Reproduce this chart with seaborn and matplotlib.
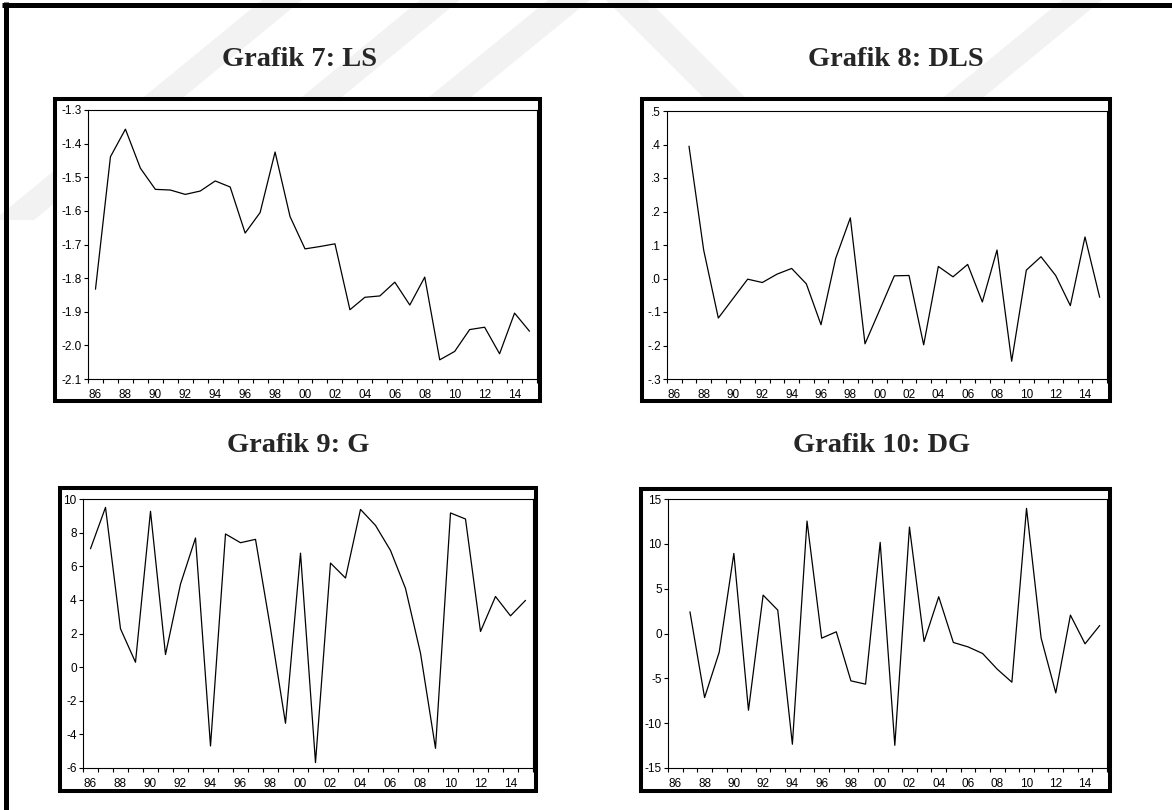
import matplotlib
matplotlib.use("Agg")
import matplotlib.pyplot as plt
from matplotlib.patches import Rectangle, Polygon
from matplotlib.lines import Line2D
import numpy as np
import pandas as pd
import seaborn as sns

# ---- series (annual, 1986-2015) ----
years_ls = list(range(1986, 2016))
ls = [-1.833, -1.439, -1.357, -1.473, -1.536, -1.538, -1.551, -1.541, -1.511, -1.529,
      -1.666, -1.605, -1.425, -1.617, -1.713, -1.706, -1.698, -1.894, -1.857, -1.853,
      -1.812, -1.880, -1.797, -2.043, -2.018, -1.953, -1.946, -2.025, -1.904, -1.958]

years_dls = list(range(1987, 2016))
dls = [0.395, 0.085, -0.118, -0.060, -0.002, -0.012, 0.013, 0.030, -0.016, -0.138,
       0.060, 0.181, -0.195, -0.094, 0.008, 0.009, -0.198, 0.036, 0.005, 0.042,
       -0.070, 0.085, -0.247, 0.025, 0.065, 0.009, -0.081, 0.124, -0.056]

years_g = list(range(1986, 2016))
g = [7.04, 9.50, 2.28, 0.29, 9.27, 0.75, 4.94, 7.68, -4.69, 7.92,
     7.40, 7.60, 2.30, -3.34, 6.78, -5.68, 6.19, 5.30, 9.38, 8.43,
     6.94, 4.68, 0.83, -4.83, 9.17, 8.81, 2.12, 4.20, 3.05, 3.97]

years_dg = list(range(1987, 2016))
dg = [2.42, -7.14, -2.08, 8.93, -8.56, 4.28, 2.61, -12.35, 12.54, -0.52,
      0.19, -5.28, -5.65, 10.16, -12.47, 11.87, -0.89, 4.10, -1.00, -1.49,
      -2.23, -3.98, -5.43, 13.96, -0.52, -6.62, 2.05, -1.15, 0.89]

# ---- titles and axis labels ----
titles = ["Grafik 7: LS", "Grafik 8: DLS", "Grafik 9: G", "Grafik 10: DG"]
year_ticks = list(range(1986, 2015, 2))
year_labels = ["86", "88", "90", "92", "94", "96", "98", "00", "02", "04", "06", "08", "10", "12", "14"]

ls_ticks = [-1.3, -1.4, -1.5, -1.6, -1.7, -1.8, -1.9, -2.0, -2.1]
ls_labels = ["-1.3", "-1.4", "-1.5", "-1.6", "-1.7", "-1.8", "-1.9", "-2.0", "-2.1"]
dls_ticks = [0.5, 0.4, 0.3, 0.2, 0.1, 0.0, -0.1, -0.2, -0.3]
dls_labels = [".5", ".4", ".3", ".2", ".1", ".0", "-.1", "-.2", "-.3"]
g_ticks = [10, 8, 6, 4, 2, 0, -2, -4, -6]
g_labels = ["10", "8", "6", "4", "2", "0", "-2", "-4", "-6"]
dg_ticks = [15, 10, 5, 0, -5, -10, -15]
dg_labels = ["15", "10", "5", "0", "-5", "-10", "-15"]

W, H = 1172, 810
sns.set_style("white")
plt.rcParams["font.family"] = ["Liberation Sans", "DejaVu Sans"]

fig = plt.figure(figsize=(W / 100, H / 100), dpi=100)
fig.patch.set_facecolor("white")


def fx(x):
    return x / W


def fy(y):
    return 1 - y / H


# faint diagonal background bands
band_color = "#f2f2f2"
bands = [
    [(262, 0), (302, 0), (34, 220), (-6, 220)],
    [(420, 0), (460, 0), (192, 220), (152, 220)],
    [(548, 0), (590, 0), (320, 220), (278, 220)],
    [(606, 0), (648, 0), (868, 220), (826, 220)],
    [(1062, 0), (1102, 0), (834, 220), (794, 220)],
]
for pts in bands:
    fig.patches.append(Polygon([(fx(a), fy(b)) for a, b in pts], closed=True,
                               transform=fig.transFigure, facecolor=band_color,
                               edgecolor="none", zorder=-5))

# page frame (top and left rules)
fig.add_artist(Line2D([fx(2), fx(W)], [fy(4.5), fy(4.5)], color="black", lw=3.6,
                      transform=fig.transFigure, zorder=-1, solid_capstyle="butt"))
fig.add_artist(Line2D([fx(5.5), fx(5.5)], [fy(2), fy(H)], color="black", lw=3.6,
                      transform=fig.transFigure, zorder=-1, solid_capstyle="butt"))

# panel layout in pixels: (frame l, r, t, b), (axes l, r, t, b), title centre (x, y)
panels = [
    ((53, 542, 97, 403), (88, 537, 110, 379), (300, 59)),
    ((640, 1112, 97, 403), (667, 1107, 111, 379), (896, 59)),
    ((58, 538, 486, 793), (83, 533, 499, 768), (298, 446)),
    ((639, 1112, 487, 793), (668, 1107, 499, 768), (882, 446)),
]
series = [
    (years_ls, ls, ls_ticks, ls_labels, (-2.1, -1.3)),
    (years_dls, dls, dls_ticks, dls_labels, (-0.3, 0.5)),
    (years_g, g, g_ticks, g_labels, (-6, 10)),
    (years_dg, dg, dg_ticks, dg_labels, (-15, 15)),
]

for (frame, axbox, tpos), (yrs, vals, yt, yl, ylim), title in zip(panels, series, titles):
    l, r, t, b = frame
    fig.patches.append(Rectangle((fx(l + 2), fy(b - 2)), (r - l - 4) / W, (b - t - 4) / H,
                                 transform=fig.transFigure, facecolor="white",
                                 edgecolor="black", lw=2.9, zorder=-1))
    al, ar, at, ab = axbox
    ax = fig.add_axes([fx(al), fy(ab), (ar - al) / W, (ab - at) / H])
    ax.set_zorder(3)
    df = pd.DataFrame({"year": yrs, "value": vals})
    sns.lineplot(data=df, x="year", y="value", ax=ax, color="black", lw=0.9)
    ax.set_xlim(1985.5, 2015.5)
    ax.set_ylim(*ylim)
    ax.set_xlabel("")
    ax.set_ylabel("")
    ax.set_xticks(year_ticks)
    ax.set_xticklabels(year_labels)
    ax.set_xticks(np.arange(1985.5, 2016, 1.0), minor=True)
    ax.set_yticks(yt)
    ax.set_yticklabels(yl)
    ax.tick_params(axis="x", which="major", length=0, pad=7, labelsize=8.5, colors="black")
    ax.tick_params(axis="x", which="minor", length=3, width=0.8, direction="out", color="black")
    ax.tick_params(axis="y", which="major", length=3, width=0.8, direction="out", pad=1.5,
                   labelsize=8.5, colors="black")
    ax.tick_params(bottom=True, left=True, which="both")
    for sp in ax.spines.values():
        sp.set_visible(True)
        sp.set_color("black")
        sp.set_linewidth(0.8)
    ax.grid(False)
    fig.text(fx(tpos[0]), fy(tpos[1]), title, ha="center", va="center",
             family=["Liberation Serif", "DejaVu Serif"], fontweight="bold", fontsize=20.5)

fig.savefig("out.png", dpi=100, facecolor="white")
